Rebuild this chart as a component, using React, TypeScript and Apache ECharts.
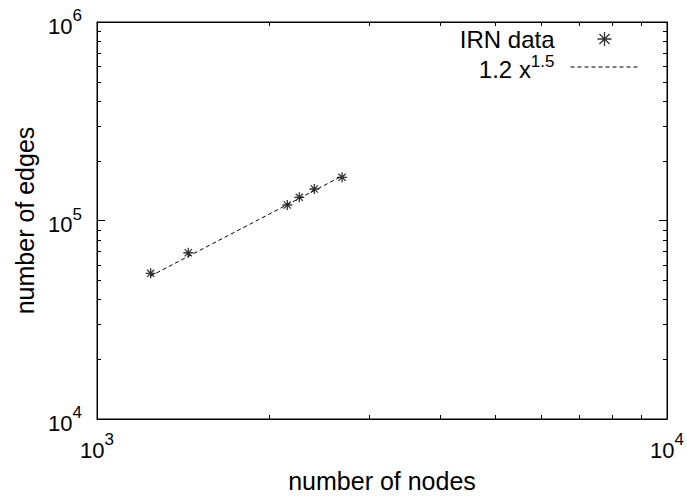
import React, { useEffect, useRef } from "react";
import * as echarts from "echarts";

const xNodes = [1242, 1446, 2157, 2264, 2406, 2691];
const yEdges = [54200, 68800, 119700, 130900, 144100, 165100];
const fitX = [1240, 2700];
const fitY = [52400, 168300];
const xMinorTicks = [2000, 3000, 4000, 5000, 6000, 7000, 8000, 9000];
const yMinorTicks = [20000, 30000, 40000, 50000, 60000, 70000, 80000, 90000, 200000, 300000, 400000, 500000, 600000, 700000, 800000, 900000];
const seriesNames = ["IRN data", "1.2 x^1.5"];

const FONT = "Liberation Sans, Arial, Helvetica, sans-serif";
const GRID = { left: 97, right: 20, top: 22, bottom: 80 };
const STAR = "path://M0,-1L0,1M-1,0L1,0M-0.72,-0.72L0.72,0.72M-0.72,0.72L0.72,-0.72";

const powRich = {
  b: { fontSize: 22, fontFamily: FONT, color: "#000", lineHeight: 30, verticalAlign: "bottom" },
  s: { fontSize: 17, fontFamily: FONT, color: "#000", lineHeight: 30, verticalAlign: "top" },
};
const legendRich = {
  b: { fontSize: 24, fontFamily: FONT, color: "#000", lineHeight: 28, verticalAlign: "bottom" },
  s: { fontSize: 17, fontFamily: FONT, color: "#000", lineHeight: 28, verticalAlign: "top" },
};

const powLabel = (v: number) => "{b|10}{s|" + Math.round(Math.log10(v)) + "}";

export default function App() {
  const ref = useRef<HTMLDivElement>(null);
  useEffect(() => {
    if (!ref.current) return;
    const chart = echarts.init(ref.current, null, { renderer: "svg" });
    const logAxisBase = {
      type: "log" as const,
      logBase: 10,
      axisLine: { show: true, lineStyle: { color: "#000", width: 1 } },
      axisTick: { show: true, inside: true, length: 8, lineStyle: { color: "#000" } },
      splitLine: { show: false },
    };
    const transparent = { color: "rgba(0,0,0,0)", borderColor: "rgba(0,0,0,0)", borderWidth: 0, opacity: 0 };
    chart.setOption({
      animation: false,
      backgroundColor: "#fff",
      textStyle: { fontFamily: FONT },
      grid: { ...GRID, show: true, borderColor: "#000", borderWidth: 1, backgroundColor: "transparent" },
      legend: {
        orient: "vertical",
        right: 43,
        top: 22,
        align: "right",
        itemWidth: 68,
        itemHeight: 14,
        itemGap: 2,
        textStyle: { fontSize: 24, fontFamily: FONT, color: "#000", padding: [0, 11, 0, 0], rich: legendRich },
        formatter: (name: string) => (name === seriesNames[1] ? "{b|1.2 x}{s|1.5}" : name),
        data: [
          { name: seriesNames[0], icon: STAR, itemStyle: { color: "none", borderColor: "#000", borderWidth: 1.3 } },
          { name: seriesNames[1], itemStyle: transparent, lineStyle: { color: "#000", width: 1, type: [4, 3] } },
        ],
      },
      xAxis: [
        {
          ...logAxisBase,
          min: 1000,
          max: 10000,
          position: "bottom",
          name: "number of nodes",
          nameLocation: "middle",
          nameGap: 49,
          nameTextStyle: { fontSize: 25, fontFamily: FONT, color: "#000" },
          axisLabel: { show: true, margin: 12, formatter: powLabel, rich: powRich, color: "#000" },
        },
        {
          ...logAxisBase,
          min: 1000,
          max: 10000,
          position: "top",
          axisLabel: { show: false },
        },
      ],
      yAxis: [
        {
          ...logAxisBase,
          min: 10000,
          max: 1000000,
          position: "left",
          name: "number of edges",
          nameLocation: "middle",
          nameGap: 59,
          nameRotate: 90,
          nameTextStyle: { fontSize: 25, fontFamily: FONT, color: "#000" },
          axisLabel: { show: true, margin: 15, formatter: powLabel, rich: powRich, color: "#000" },
        },
        {
          ...logAxisBase,
          min: 10000,
          max: 1000000,
          position: "right",
          axisLabel: { show: false },
        },
      ],
      series: [
        {
          name: seriesNames[0],
          type: "scatter",
          data: xNodes.map((x, i) => [x, yEdges[i]]),
          symbol: STAR,
          symbolSize: 10,
          itemStyle: { color: "none", borderColor: "#000", borderWidth: 1.3 },
          z: 3,
        },
        {
          name: seriesNames[1],
          type: "line",
          data: fitX.map((x, i) => [x, fitY[i]]),
          symbol: "none",
          lineStyle: { color: "#000", width: 1, type: [4, 3] },
          itemStyle: { color: "#000" },
          z: 2,
        },
      ],
    });

    const top = GRID.top;
    const bottom = 499 - GRID.bottom;
    const left = GRID.left;
    const right = 687 - GRID.right;
    const els: any[] = [];
    const st = { stroke: "#000", lineWidth: 1 };
    xMinorTicks.forEach((v) => {
      const px = Math.round(chart.convertToPixel({ xAxisIndex: 0 }, v) as number) + 0.5;
      els.push({ type: "line", shape: { x1: px, y1: bottom, x2: px, y2: bottom - 4 }, style: st, silent: true });
      els.push({ type: "line", shape: { x1: px, y1: top, x2: px, y2: top + 4 }, style: st, silent: true });
    });
    yMinorTicks.forEach((v) => {
      const py = Math.round(chart.convertToPixel({ yAxisIndex: 0 }, v) as number) + 0.5;
      els.push({ type: "line", shape: { x1: left, y1: py, x2: left + 4, y2: py }, style: st, silent: true });
      els.push({ type: "line", shape: { x1: right, y1: py, x2: right - 4, y2: py }, style: st, silent: true });
    });
    chart.setOption({ graphic: els });

    return () => chart.dispose();
  }, []);
  return <div ref={ref} style={{ width: 687, height: 499, position: "absolute", left: 0, top: 0 }} />;
}
